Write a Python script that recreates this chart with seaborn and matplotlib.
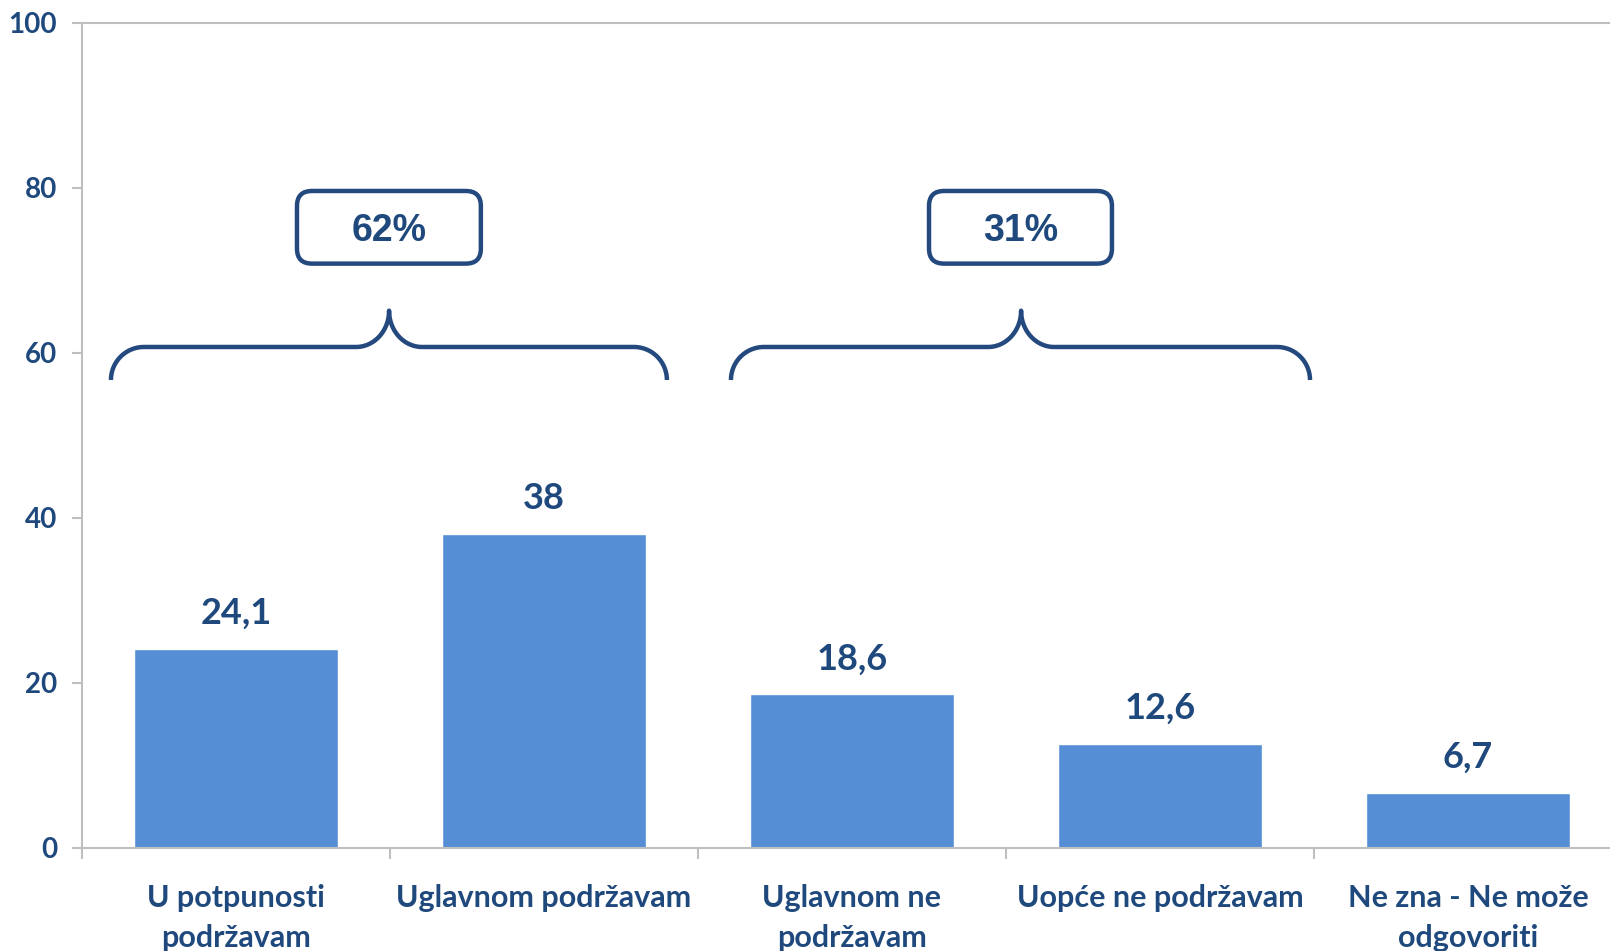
import numpy as np
import pandas as pd
import matplotlib
matplotlib.use("Agg")
import matplotlib.pyplot as plt
from matplotlib.path import Path
from matplotlib.patches import PathPatch, FancyBboxPatch
import seaborn as sns

# ---- data ----
categories = ["U potpunosti\npodržavam", "Uglavnom podržavam", "Uglavnom ne\npodržavam",
              "Uopće ne podržavam", "Ne zna - Ne može\nodgovoriti"]
values = [24.1, 38.0, 18.6, 12.6, 6.7]
value_labels = ["24,1", "38", "18,6", "12,6", "6,7"]
group_labels = ["62%", "31%"]
y_ticks = [0, 20, 40, 60, 80, 100]

BAR = "#558ED5"
TXT = "#1F497D"
BRACE = "#24497E"
GRID = "#BFBFBF"

sns.set_theme(style="white")
plt.rcParams["font.family"] = ["Lato", "DejaVu Sans"]

W, H = 1610, 951
fig = plt.figure(figsize=(W / 100, H / 100), dpi=100)
left_px, right_px, top_px, bot_px = 82, 82 + 5 * 308, 22.6, 848
ax = fig.add_axes([left_px / W, (H - bot_px) / H, (right_px - left_px) / W, (bot_px - top_px) / H])

df = pd.DataFrame({"cat": categories, "val": values})
sns.barplot(data=df, x="cat", y="val", color=BAR, saturation=1, width=0.66, ax=ax)

ax.set_xlim(-0.5, 4.5)
ax.set_ylim(0, 100)
ax.set_xlabel("")
ax.set_ylabel("")

# spines
for s in ["left", "bottom", "top"]:
    ax.spines[s].set_color(GRID)
    ax.spines[s].set_linewidth(1.5)
ax.spines["right"].set_visible(False)

# y ticks
ax.set_yticks(y_ticks)
ax.set_yticklabels([str(t) for t in y_ticks])
ax.tick_params(axis="y", length=7, width=1.5, color=GRID, pad=11, labelsize=20,
               labelcolor=TXT, left=True)
for lab in ax.get_yticklabels():
    lab.set_fontweight("bold")

# x ticks: marks at boundaries, labels at centers
ax.set_xticks(np.arange(len(categories) + 1) - 0.5)
ax.set_xticklabels([""] * (len(categories) + 1))
ax.set_xticks(np.arange(len(categories)), minor=True)
ax.set_xticklabels(categories, minor=True)
ax.tick_params(axis="x", which="major", length=8, width=1.5, color=GRID, bottom=True)
ax.tick_params(axis="x", which="minor", length=0, pad=26, labelsize=22, labelcolor=TXT)
for lab in ax.get_xticklabels(minor=True):
    lab.set_fontweight("bold")
    lab.set_linespacing(1.5)

# value labels
for i, (v, t) in enumerate(zip(values, value_labels)):
    ax.annotate(t, (i, v), xytext=(0, 25.5), textcoords="offset points",
                ha="center", va="center", fontsize=26, fontweight="bold", color=TXT)

# braces
px_x = 1 / 308.0
px_y = 100 / (bot_px - top_px)


def brace(x0, x1, xc, yb, yh, yt, r_px=33):
    rx, ry = r_px * px_x, yh - yb
    rx2, ry2 = r_px * px_x, yt - yh
    t = np.linspace(0, np.pi / 2, 30)
    pts = []
    a = np.pi - t
    pts += list(zip(x0 + rx + rx * np.cos(a), yb + ry * np.sin(a)))
    a = -np.pi / 2 + t
    pts += list(zip(xc - rx2 + rx2 * np.cos(a), yt + ry2 * np.sin(a)))
    a = np.pi + t
    pts += list(zip(xc + rx2 + rx2 * np.cos(a), yt + ry2 * np.sin(a)))
    a = np.pi / 2 - t
    pts += list(zip(x1 - rx + rx * np.cos(a), yb + ry * np.sin(a)))
    path = Path(np.array(pts))
    ax.add_patch(PathPatch(path, fill=False, edgecolor=BRACE, lw=3.2,
                           capstyle="butt", joinstyle="round", clip_on=False))


brace(-0.406, 1.399, 0.497, 56.7, 60.7, 65.1)
brace(1.607, 3.487, 2.549, 56.7, 60.7, 65.1)

# boxes
boxes = [(0.198, 0.795), (2.250, 2.844)]
ylo, yhi = 70.8, 79.6
for (bx0, bx1), lab in zip(boxes, group_labels):
    rs = 15 * px_x
    p = FancyBboxPatch((bx0, ylo), bx1 - bx0, yhi - ylo,
                       boxstyle=f"round,pad=0,rounding_size={rs}",
                       mutation_aspect=px_y / px_x,
                       facecolor="white", edgecolor=BRACE, lw=3.2, clip_on=False)
    ax.add_patch(p)
    ax.text((bx0 + bx1) / 2, (ylo + yhi) / 2 - 0.4, lab, ha="center", va="center",
            fontsize=27, fontweight="bold", color=TXT,
            family=["Liberation Sans", "DejaVu Sans"])

fig.savefig("out.png", dpi=100)
